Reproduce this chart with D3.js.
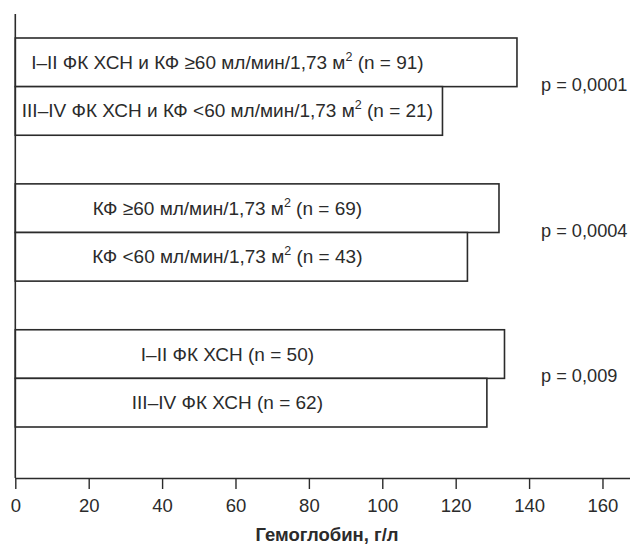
<!DOCTYPE html>
<html>
<head>
<meta charset="utf-8">
<script src="https://cdn.jsdelivr.net/npm/d3@7"></script>
<style>
  body { margin: 0; background: #fff; }
  svg { font-family: "Liberation Sans", Arial, sans-serif; }
</style>
</head>
<body>
<svg width="630" height="545"></svg>
<script>
// Data
const groups = ["g1", "g2", "g3"];
const pValues = ["p = 0,0001", "p = 0,0004", "p = 0,009"];
const labels = [
  ["I–II ФК ХСН и КФ ≥60 мл/мин/1,73 м", "2", " (n = 91)"],
  ["III–IV ФК ХСН и КФ <60 мл/мин/1,73 м", "2", " (n = 21)"],
  ["КФ ≥60 мл/мин/1,73 м", "2", " (n = 69)"],
  ["КФ <60 мл/мин/1,73 м", "2", " (n = 43)"],
  ["I–II ФК ХСН (n = 50)"],
  ["III–IV ФК ХСН (n = 62)"]
];
const hemoglobin = [136.7, 116.4, 131.8, 123.2, 133.3, 128.5];
const xTicks = [0, 20, 40, 60, 80, 100, 120, 140, 160];
const xTitle = "Гемоглобин, г/л";

const ink = "#2b2b2b";
const axisY = 478;

const svg = d3.select("svg");

const x = d3.scaleLinear()
  .domain([0, 167.5])
  .range([15.3, 630]);

const yGroup = d3.scaleBand()
  .domain(groups)
  .range([38, 427])
  .paddingInner(1 / 3)
  .paddingOuter(0);

const ySub = d3.scaleBand()
  .domain([0, 1])
  .range([0, yGroup.bandwidth()]);

const bars = hemoglobin.map((v, i) => ({
  value: v,
  label: labels[i],
  group: groups[Math.floor(i / 2)],
  sub: i % 2
}));

// Bars
svg.append("g")
  .selectAll("rect")
  .data(bars)
  .join("rect")
  .attr("x", x(0))
  .attr("y", d => yGroup(d.group) + ySub(d.sub))
  .attr("width", d => x(d.value) - x(0))
  .attr("height", ySub.bandwidth())
  .attr("fill", "#fff")
  .attr("stroke", ink)
  .attr("stroke-width", 1.6);

// Bar labels
const lbl = svg.append("g")
  .selectAll("text")
  .data(bars)
  .join("text")
  .attr("x", x(57.8))
  .attr("y", d => yGroup(d.group) + ySub(d.sub) + ySub.bandwidth() / 2 + 6.5)
  .attr("text-anchor", "middle")
  .attr("fill", ink)
  .style("font-size", "19px");

lbl.each(function(d) {
  const t = d3.select(this);
  t.append("tspan").text(d.label[0]);
  if (d.label.length > 1) {
    t.append("tspan")
      .attr("dy", -8)
      .style("font-size", "12.5px")
      .text(d.label[1]);
    t.append("tspan")
      .attr("dy", 8)
      .text(d.label[2]);
  }
});

// p-values
svg.append("g")
  .selectAll("text")
  .data(groups)
  .join("text")
  .attr("x", 541)
  .attr("y", (g, i) => yGroup(g) + yGroup.bandwidth() / 2 + 4)
  .attr("fill", ink)
  .style("font-size", "18.2px")
  .text((g, i) => pValues[i]);

// X axis
const xAxis = svg.append("g")
  .attr("transform", `translate(0,${axisY})`)
  .call(d3.axisBottom(x)
    .tickValues(xTicks)
    .tickSize(11)
    .tickPadding(10)
    .tickSizeOuter(0));

xAxis.select(".domain").attr("stroke", ink).attr("stroke-width", 1.6);
xAxis.selectAll(".tick line").attr("stroke", ink).attr("stroke-width", 1.4);
xAxis.selectAll(".tick text")
  .attr("fill", ink)
  .style("font-size", "18.5px")
  .style("font-family", "'Liberation Sans', Arial, sans-serif");

// Y axis line
svg.append("line")
  .attr("x1", x(0)).attr("x2", x(0))
  .attr("y1", 14).attr("y2", axisY)
  .attr("stroke", ink)
  .attr("stroke-width", 1.6);

// Axis title
svg.append("text")
  .attr("x", 327)
  .attr("y", 541)
  .attr("text-anchor", "middle")
  .attr("fill", ink)
  .style("font-size", "18.5px")
  .style("font-weight", "bold")
  .text(xTitle);
</script>
</body>
</html>
